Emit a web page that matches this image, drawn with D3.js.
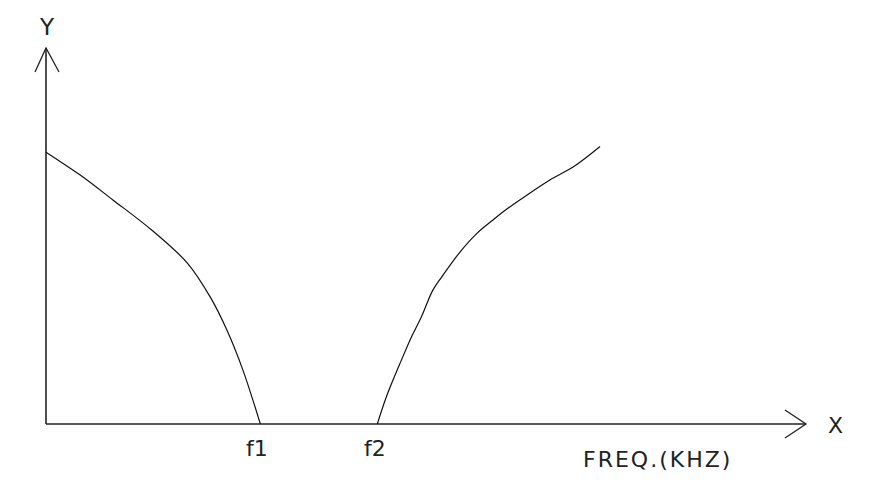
<!DOCTYPE html>
<html>
<head>
<meta charset="utf-8">
<script src="https://cdn.jsdelivr.net/npm/d3@7"></script>
<style>
  html, body { margin: 0; padding: 0; background: #fff; }
  svg { display: block; }
  text { font-family: "DejaVu Sans", Verdana, sans-serif; fill: #222; }
</style>
</head>
<body>
<div id="chart"></div>
<script>
// response curve (x: frequency units, y: level units, 0-100)
const LOW_X  = [0, 4.5, 8.8, 13.9, 18.6, 21.6, 23.8, 25.9, 28.2];
const LOW_Y  = [72.3, 66.2, 59.6, 51.6, 42.8, 33.8, 25.0, 14.4, 0];
const HIGH_X = [43.6, 44.8, 46.6, 48.1, 49.4, 50.9, 52.1, 54.5, 56.7, 58.9, 60.2, 63.3, 66.3, 69.4, 72.9];
const HIGH_Y = [0, 7.3, 16.2, 23.2, 28.5, 35.6, 39.2, 45.8, 50.7, 54.4, 56.5, 60.9, 64.9, 68.4, 73.8];

const TICK_VALUES = [28.2, 43.6];
const TICK_LABELS = ["f1", "f2"];

const W = 869, H = 493;
const ORIGIN = { x: 46, y: 424 };
const X_END = 806, Y_END = 48;

const svg = d3.select("#chart").append("svg")
    .attr("width", W).attr("height", H);

const x = d3.scaleLinear().domain([0, 100]).range([ORIGIN.x, X_END]);
const y = d3.scaleLinear().domain([0, 100]).range([ORIGIN.y, Y_END]);

// axes: plain lines with open arrowheads
const axisStyle = g => g.attr("stroke", "#222").attr("stroke-width", 1.6).attr("fill", "none");

svg.append("line").call(axisStyle)
    .attr("x1", x(0)).attr("y1", y(0)).attr("x2", x(100)).attr("y2", y(0));
svg.append("line").call(axisStyle)
    .attr("x1", x(0)).attr("y1", y(0)).attr("x2", x(0)).attr("y2", y(100));

svg.append("path").call(axisStyle).attr("stroke-width", 1.3)
    .attr("d", `M${x(100) - 21},${y(0) - 14} L${x(100)},${y(0)} L${x(100) - 21},${y(0) + 14}`);
svg.append("path").call(axisStyle).attr("stroke-width", 1.3)
    .attr("d", `M${x(0) - 11},${y(100) + 24} L${x(0)},${y(100)} L${x(0) + 13},${y(100) + 24}`);

// f1 / f2 labels under the axis
const xAxis = d3.axisBottom(x)
    .tickValues(TICK_VALUES)
    .tickFormat((d, i) => TICK_LABELS[i])
    .tickSize(0).tickPadding(16);
const gx = svg.append("g").attr("transform", `translate(0,${y(0)})`).call(xAxis);
gx.select(".domain").remove();
gx.selectAll("text").attr("font-size", 22).attr("fill", "#222")
    .attr("font-family", "DejaVu Sans, Verdana, sans-serif")
    .attr("dx", (d, i) => i === 0 ? -4 : -3);

// curves
const line = d3.line().x(d => x(d[0])).y(d => y(d[1])).curve(d3.curveCatmullRom.alpha(0.5));
[[LOW_X, LOW_Y], [HIGH_X, HIGH_Y]].forEach(([xs, ys]) => {
  svg.append("path")
      .datum(xs.map((v, i) => [v, ys[i]]))
      .attr("fill", "none").attr("stroke", "#111").attr("stroke-width", 1.2)
      .attr("d", line);
});

// axis names
svg.append("text").attr("x", x(0) + 1).attr("y", 35).attr("text-anchor", "middle")
    .attr("font-size", 23).text("Y");
svg.append("text").attr("x", x(100) + 22).attr("y", y(0) + 9)
    .attr("font-size", 22).text("X");
svg.append("text").attr("x", 583).attr("y", 467)
    .attr("font-size", 22).attr("letter-spacing", 2).text("FREQ.(KHZ)");
</script>
</body>
</html>
